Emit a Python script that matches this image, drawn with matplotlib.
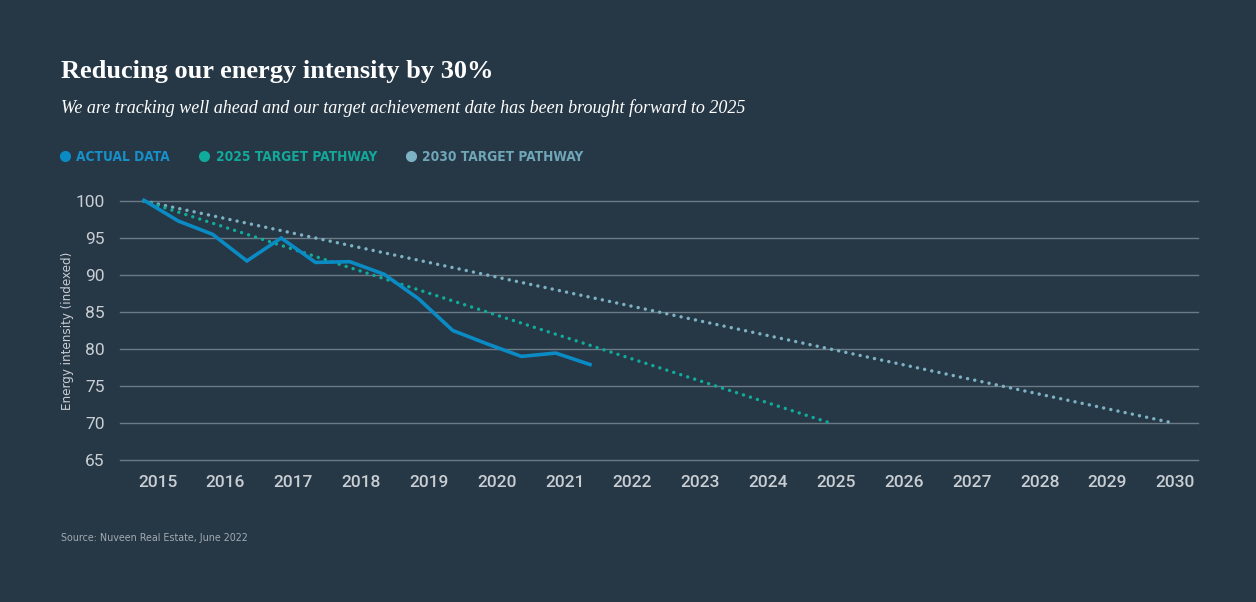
import matplotlib.pyplot as plt
from matplotlib.lines import Line2D

BG = "#263746"
GRID = "#6c7a86"
TICK = "#c9ced3"
BLUE = "#0b8bc4"
TEAL = "#10ab9b"
PALE = "#7cb2c3"

# actual data, half-yearly from 2015
actual_x = [2015.0, 2015.5, 2016.0, 2016.5, 2017.0, 2017.5, 2018.0,
            2018.5, 2019.0, 2019.5, 2020.0, 2020.5, 2021.0, 2021.5]
actual_y = [100.1, 97.3, 95.5, 91.9, 95.0, 91.7, 91.8,
            90.1, 86.8, 82.5, 80.7, 79.0, 79.45, 77.9]

# target pathways (start and end points)
path2025_x = [2015, 2025]
path2025_y = [100, 70]
path2030_x = [2015, 2030]
path2030_y = [100, 70]

years = list(range(2015, 2031))
y_ticks = [65, 70, 75, 80, 85, 90, 95, 100]

NARROW = dict(family="DejaVu Sans", stretch="condensed")

fig = plt.figure(figsize=(12.56, 6.02), dpi=100, facecolor=BG)
ax = fig.add_axes([0.0955, 0.2359, 0.8583, 0.4302], facecolor=BG)

dots = (0, (0.01, 2.1))
ax.plot(path2030_x, path2030_y, color=PALE, lw=2.5, linestyle=dots,
        dash_capstyle="round", zorder=2, clip_on=False)
ax.plot(path2025_x, path2025_y, color=TEAL, lw=2.5, linestyle=dots,
        dash_capstyle="round", zorder=3, clip_on=False)
ax.plot(actual_x, actual_y, color=BLUE, lw=2.6, solid_joinstyle="miter",
        zorder=4, clip_on=False)

ax.set_xlim(2014.65, 2030.36)
ax.set_ylim(65, 100)
ax.set_yticks(y_ticks)
ax.set_yticklabels([str(v) for v in y_ticks], fontsize=12.5, color=TICK,
                   family="Roboto")
# labels sit slightly right of the data positions, as in the original
ax.set_xticks([y + 0.2 - 0.0113 * (y - 2015) for y in years])
ax.set_xticklabels([str(y) for y in years], fontsize=12.5, color=TICK,
                   family="Roboto", fontweight="medium")
ax.tick_params(axis="both", length=0)
ax.tick_params(axis="y", pad=11)
ax.tick_params(axis="x", pad=11)
ax.grid(axis="y", color=GRID, lw=1)
for gl in ax.get_ygridlines():
    gl.set_clip_on(False)
ax.set_axisbelow(True)
for s in ax.spines.values():
    s.set_visible(False)

ax.set_ylabel("Energy intensity (indexed)", fontsize=9.5, color=TICK,
              labelpad=1, **NARROW)

fig.text(0.0486, 0.870, "Reducing our energy intensity by 30%",
         fontsize=19, fontweight="bold", color="white",
         family="Liberation Serif", va="baseline")
fig.text(0.0486, 0.812,
         "We are tracking well ahead and our target achievement date has been brought forward to 2025",
         fontsize=13, style="italic", color="white",
         family="Liberation Serif", va="baseline")

handles = [
    Line2D([], [], marker="o", color=BLUE, ls="", markersize=7),
    Line2D([], [], marker="o", color=TEAL, ls="", markersize=7),
    Line2D([], [], marker="o", color=PALE, ls="", markersize=7),
]
labels = ["ACTUAL DATA", "2025 TARGET PATHWAY", "2030 TARGET PATHWAY"]
leg = fig.legend(handles, labels, loc="center left",
                 bbox_to_anchor=(0.0385, 0.739), ncol=3, frameon=False,
                 handlelength=0.6, handletextpad=0.55, columnspacing=2.2,
                 prop=dict(size=9.8, weight="bold", **NARROW))
for t, c in zip(leg.get_texts(), ["#1790c9", "#13a99a", "#6fa6b8"]):
    t.set_color(c)

fig.text(0.0486, 0.106, "Source: Nuveen Real Estate, June 2022",
         fontsize=7.7, color="#a3abb3", va="center", **NARROW)

fig.savefig("out.png", dpi=100, facecolor=BG)
